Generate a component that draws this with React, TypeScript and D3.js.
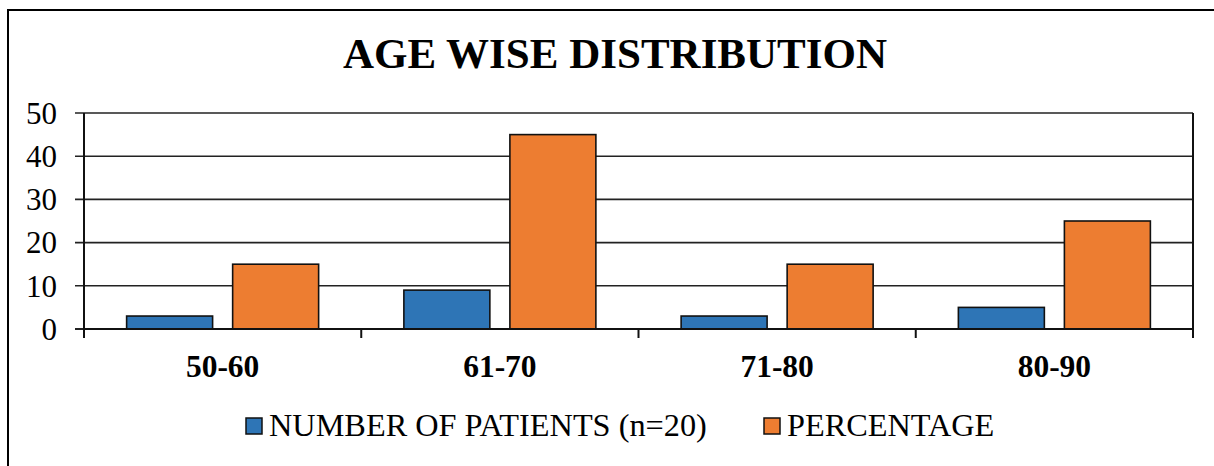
import React from "react";
import * as d3 from "d3";

const categories = ["50-60", "61-70", "71-80", "80-90"];
const patients = [3, 9, 3, 5];
const percentage = [15, 45, 15, 25];
const seriesNames = ["NUMBER OF PATIENTS (n=20)", "PERCENTAGE"];
const seriesColors = ["#2E75B6", "#ED7D31"];
const yTicks = [0, 10, 20, 30, 40, 50];
const title = "AGE WISE DISTRIBUTION";

const W = 1214;
const H = 466;
const FONT = "'Liberation Serif', 'Times New Roman', serif";

export default function App() {
  const x0 = d3.scaleBand<string>().domain(categories).range([84, 1193]).padding(0);
  const x1 = d3
    .scaleBand<string>()
    .domain(seriesNames)
    .range([0, x0.bandwidth()])
    .paddingInner(0.189)
    .paddingOuter(0.402);
  const y = d3.scaleLinear().domain([0, 50]).range([329, 113]);
  const series = [patients, percentage];

  const boundaries = [...categories.map((c) => x0(c) as number), 1193];

  return (
    <svg
      width={W}
      height={H}
      style={{ position: "absolute", left: 0, top: 0, background: "#fff" }}
      fontFamily={FONT}
    >
      {/* outer chart border */}
      <path d={`M8,${H + 2} L8,10 L${W + 2},10`} fill="none" stroke="#000" strokeWidth={2} />

      <text x={615} y={68} textAnchor="middle" fontSize={43} fontWeight="bold" fill="#000">
        {title}
      </text>

      {/* gridlines */}
      {yTicks.map((t) => (
        <line key={"g" + t} x1={75} x2={1193} y1={y(t)} y2={y(t)} stroke="#222" strokeWidth={t === 0 ? 2 : 1.6} />
      ))}
      {yTicks.map((t) => (
        <text key={"t" + t} x={57} y={y(t)} dy="0.35em" textAnchor="end" fontSize={31} fill="#000">
          {t}
        </text>
      ))}

      {/* bars */}
      {categories.map((c, i) =>
        seriesNames.map((s, j) => (
          <rect
            key={c + s}
            x={(x0(c) as number) + (x1(s) as number)}
            y={y(series[j][i])}
            width={x1.bandwidth()}
            height={y(0) - y(series[j][i])}
            fill={seriesColors[j]}
            stroke="#111"
            strokeWidth={1.6}
          />
        ))
      )}

      {/* axes */}
      <line x1={84} x2={84} y1={113} y2={338} stroke="#111" strokeWidth={2} />
      <line x1={1193} x2={1193} y1={113} y2={338} stroke="#111" strokeWidth={2} />
      <line x1={84} x2={1193} y1={y(0)} y2={y(0)} stroke="#111" strokeWidth={2} />
      {boundaries.map((b, i) => (
        <line key={"ct" + i} x1={b} x2={b} y1={y(0)} y2={338} stroke="#111" strokeWidth={2} />
      ))}
      {categories.map((c) => (
        <text
          key={"cl" + c}
          x={(x0(c) as number) + x0.bandwidth() / 2}
          y={377}
          textAnchor="middle"
          fontSize={31.5}
          fontWeight="bold"
          fill="#000"
        >
          {c}
        </text>
      ))}

      {/* legend */}
      {[246, 764].map((lx, j) => (
        <g key={"lg" + j}>
          <rect x={lx} y={418} width={16} height={16} fill={seriesColors[j]} stroke="#111" strokeWidth={1.5} />
          <text x={lx + 23} y={436} fontSize={32.3} fill="#000">
            {seriesNames[j]}
          </text>
        </g>
      ))}
    </svg>
  );
}
